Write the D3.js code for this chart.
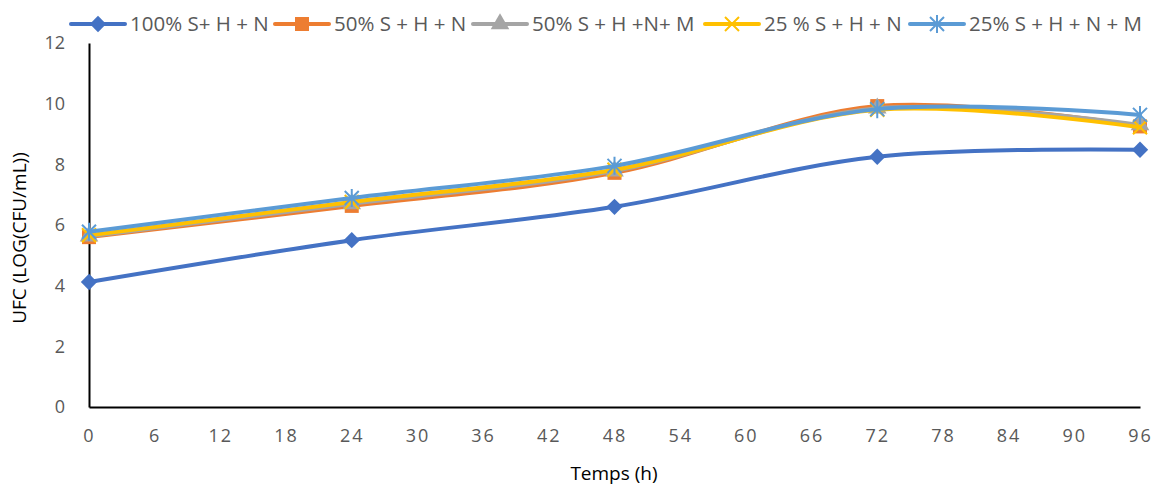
<!DOCTYPE html>
<html lang="fr">
<head>
<meta charset="UTF-8">
<title>UFC</title>
<style>
  body { margin: 0; background: #fff; }
  text { font-family: "Open Sans", "Liberation Sans", sans-serif; fill: #595959; }
</style>
</head>
<body>
<div id="chart"></div>
<script src="https://cdn.jsdelivr.net/npm/d3@7/dist/d3.min.js"></script>
<script>
"use strict";

// data
var hours = [0, 24, 48, 72, 96];
var xTicks = [0, 6, 12, 18, 24, 30, 36, 42, 48, 54, 60, 66, 72, 78, 84, 90, 96];
var yTicks = [0, 2, 4, 6, 8, 10, 12];
var seriesNames = ["100% S+ H + N", "50% S + H + N", "50% S + H +N+ M", "25 % S + H + N", "25% S + H + N + M"];
var s100 = [4.12, 5.5, 6.6, 8.25, 8.48];
var s50 = [5.6, 6.63, 7.72, 9.92, 9.25];
var s50m = [5.63, 6.7, 7.78, 9.85, 9.3];
var s25 = [5.66, 6.76, 7.82, 9.8, 9.22];
var s25m = [5.78, 6.89, 7.95, 9.82, 9.63];
var seriesValues = [s100, s50, s50m, s25, s25m];
var colors = ["#4472C4", "#ED7D31", "#A5A5A5", "#FFC000", "#5B9BD5"];
var markers = ["diamond", "square", "triangle", "x", "star"];

var W = 1156, H = 487;
var svg = d3.select("#chart").append("svg").attr("width", W).attr("height", H);

var x = d3.scaleLinear().domain([0, 96]).range([89, 1140]);
var y = d3.scaleLinear().domain([0, 12]).range([407, 43]);

// axes
var xAxis = svg.append("g").attr("transform", "translate(0," + y(0) + ")")
  .call(d3.axisBottom(x).tickValues(xTicks).tickSize(0).tickPadding(22));
var yAxis = svg.append("g").attr("transform", "translate(" + x(0) + ",0)")
  .call(d3.axisLeft(y).tickValues(yTicks).tickSize(0).tickPadding(24));
[xAxis, yAxis].forEach(function (g) {
  g.select(".domain").attr("stroke", "#000").attr("stroke-width", 2);
  g.selectAll("text").style("font-size", "18px").attr("fill", "#595959")
    .style("font-family", "'Open Sans', 'Liberation Sans', sans-serif");
});
xAxis.selectAll("text").style("letter-spacing", "2px");

svg.append("text").attr("x", 614).attr("y", 480).attr("text-anchor", "middle")
  .style("font-size", "19px").style("fill", "#000").text("Temps (h)");
svg.append("text").attr("transform", "translate(26,238) rotate(-90)").attr("text-anchor", "middle")
  .style("font-size", "19px").style("fill", "#000").text("UFC (LOG(CFU/mL))");

function drawMarker(g, type, color, cx, cy) {
  var s = 7;
  if (type === "diamond") {
    g.append("path").attr("d", d3.symbol().type(d3.symbolDiamond2).size(170)())
      .attr("transform", "translate(" + cx + "," + cy + ")").attr("fill", color);
  } else if (type === "square") {
    g.append("rect").attr("x", cx - s).attr("y", cy - s).attr("width", 2 * s).attr("height", 2 * s).attr("fill", color);
  } else if (type === "triangle") {
    g.append("path").attr("d", d3.symbol().type(d3.symbolTriangle).size(150)())
      .attr("transform", "translate(" + cx + "," + cy + ")").attr("fill", color);
  } else if (type === "x") {
    g.append("path").attr("d", "M" + (cx - s) + "," + (cy - s) + "L" + (cx + s) + "," + (cy + s) +
      "M" + (cx - s) + "," + (cy + s) + "L" + (cx + s) + "," + (cy - s))
      .attr("stroke", color).attr("stroke-width", 2);
  } else if (type === "star") {
    g.append("path").attr("d", "M" + (cx - s) + "," + (cy - s) + "L" + (cx + s) + "," + (cy + s) +
      "M" + (cx - s) + "," + (cy + s) + "L" + (cx + s) + "," + (cy - s) +
      "M" + cx + "," + (cy - s - 2) + "L" + cx + "," + (cy + s + 2))
      .attr("stroke", color).attr("stroke-width", 2);
  }
}

var line = d3.line().x(function (d) { return x(d[0]); }).y(function (d) { return y(d[1]); })
  .curve(d3.curveCatmullRom.alpha(0));

seriesValues.forEach(function (vals, i) {
  var pts = hours.map(function (h, j) { return [h, vals[j]]; });
  var g = svg.append("g");
  g.append("path").datum(pts).attr("d", line).attr("fill", "none")
    .attr("stroke", colors[i]).attr("stroke-width", 4).attr("stroke-linecap", "round");
  pts.forEach(function (p) { drawMarker(g, markers[i], colors[i], x(p[0]), y(p[1])); });
});

// legend
var legendX = [71, 275, 473, 705, 910];
seriesNames.forEach(function (name, i) {
  var g = svg.append("g");
  var lx = legendX[i], ly = 24;
  g.append("line").attr("x1", lx).attr("x2", lx + 54).attr("y1", ly).attr("y2", ly)
    .attr("stroke", colors[i]).attr("stroke-width", 4).attr("stroke-linecap", "round");
  drawMarker(g, markers[i], colors[i], lx + 27, ly);
  g.append("text").attr("x", lx + 59).attr("y", ly + 7).style("font-size", "20.5px").text(name);
});
</script>
</body>
</html>
